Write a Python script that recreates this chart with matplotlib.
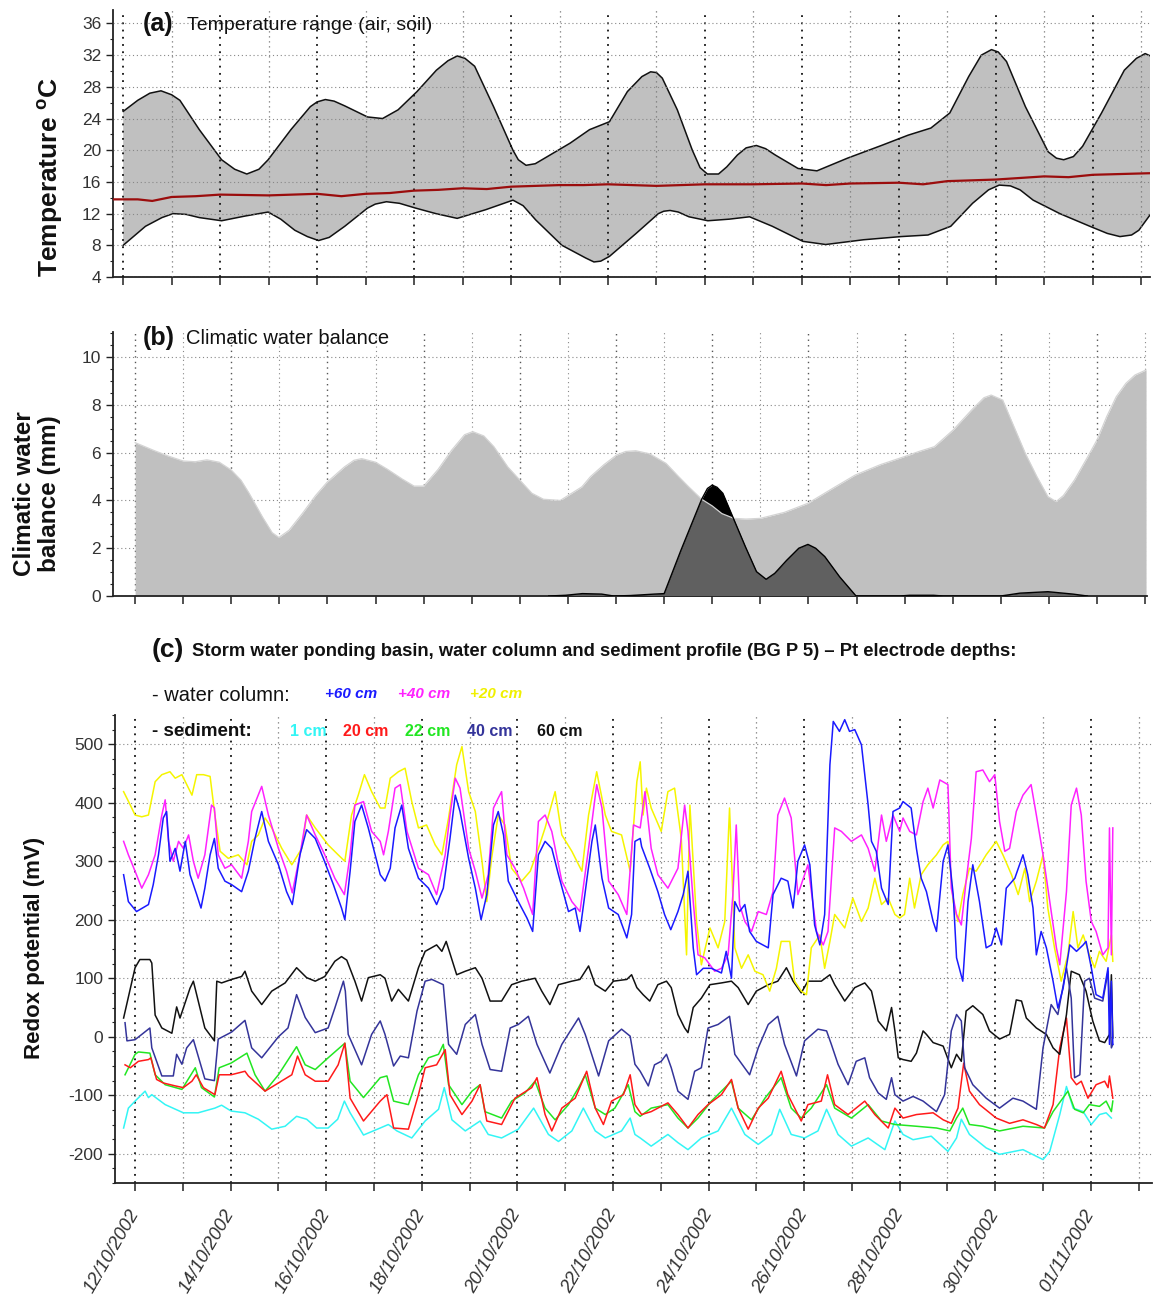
import numpy as np
import matplotlib

matplotlib.use("Agg")
import matplotlib.pyplot as plt
from matplotlib.patches import Polygon
from matplotlib.ticker import MultipleLocator

plt.rcParams["font.family"] = ["Liberation Sans", "DejaVu Sans"]
plt.rcParams["mathtext.fontset"] = "custom"
plt.rcParams["mathtext.bf"] = "Liberation Sans:bold"
plt.rcParams["mathtext.rm"] = "Liberation Sans"
plt.rcParams["axes.unicode_minus"] = False

# x values are days since 12/10/2002 (panel a axis is drawn slightly shifted, as in the source)

# (a) temperature range (air) and soil temperature, deg C
temp_max = [(0.0, 24.9), (0.3, 26.3), (0.55, 27.2), (0.78, 27.5), (1.0, 27.0), (1.17, 26.3), (1.57, 22.6),
            (2.03, 18.8), (2.3, 17.6), (2.55, 17.0), (2.8, 17.6), (2.99, 18.8), (3.46, 22.6), (3.86, 25.5),
            (4.0, 26.1), (4.17, 26.4), (4.35, 26.2), (4.57, 25.6), (5.04, 24.2), (5.35, 24.0), (5.67, 25.1),
            (6.06, 27.4), (6.46, 30.1), (6.7, 31.3), (6.89, 31.9), (7.05, 31.6), (7.25, 30.6), (7.64, 25.5),
            (8.04, 20.0), (8.15, 18.8), (8.31, 18.1), (8.5, 18.3), (8.75, 19.2), (9.22, 20.9), (9.62, 22.6),
            (10.03, 23.6), (10.4, 27.4), (10.7, 29.3), (10.88, 29.9), (11.0, 29.8), (11.12, 29.1), (11.43, 25.1),
            (11.74, 20.0), (11.9, 17.8), (12.05, 17.0), (12.28, 17.0), (12.45, 17.9), (12.67, 19.4),
            (12.85, 20.3), (13.06, 20.6), (13.25, 20.2), (13.45, 19.4), (13.92, 17.7), (14.31, 17.4),
            (14.94, 19.0), (15.64, 20.6), (16.19, 21.9), (16.66, 22.8), (17.05, 24.7), (17.44, 29.3),
            (17.7, 32.0), (17.91, 32.7), (18.05, 32.4), (18.22, 31.2), (18.61, 25.5), (19.08, 19.8),
            (19.25, 19.0), (19.4, 18.8), (19.6, 19.2), (19.79, 20.5), (20.18, 24.7), (20.65, 30.1),
            (20.9, 31.6), (21.08, 32.2), (21.26, 31.7)]
temp_min = [(0.0, 8.0), (0.46, 10.4), (0.8, 11.5), (1.03, 12.0), (1.3, 11.9), (1.57, 11.5), (2.03, 11.1),
            (2.52, 11.7), (2.99, 12.2), (3.25, 11.3), (3.54, 9.9), (3.8, 9.1), (4.03, 8.6), (4.25, 9.0),
            (4.57, 10.4), (5.04, 12.7), (5.2, 13.2), (5.43, 13.5), (5.7, 13.3), (6.03, 12.7), (6.45, 12.0),
            (6.89, 11.4), (7.48, 12.5), (8.04, 13.7), (8.25, 13.0), (8.51, 11.2), (9.05, 8.0), (9.54, 6.4),
            (9.71, 5.9), (9.85, 6.0), (10.03, 6.6), (10.58, 9.5), (11.04, 12.0), (11.15, 12.3), (11.28, 12.4),
            (11.45, 12.2), (11.67, 11.6), (12.06, 11.1), (12.5, 11.3), (12.92, 11.6), (13.39, 10.4),
            (14.02, 8.5), (14.49, 8.1), (15.27, 8.7), (16.04, 9.1), (16.6, 9.3), (17.07, 10.4), (17.52, 13.3),
            (17.85, 15.0), (18.07, 15.6), (18.3, 15.5), (18.5, 15.0), (18.77, 13.7), (19.32, 12.0),
            (19.94, 10.4), (20.3, 9.5), (20.56, 9.1), (20.8, 9.3), (20.95, 9.9), (21.26, 12.5)]
temp_soil = [(-0.21, 13.8), (0.3, 13.8), (0.6, 13.6), (1.0, 14.1), (1.5, 14.2), (2.0, 14.4), (3.0, 14.3),
             (4.0, 14.5), (4.5, 14.2), (5.0, 14.5), (5.5, 14.6), (6.0, 14.9), (6.5, 15.0), (7.0, 15.2),
             (7.5, 15.1), (8.0, 15.4), (9.0, 15.6), (9.5, 15.6), (10.0, 15.7), (10.5, 15.6), (11.0, 15.5),
             (12.0, 15.7), (13.0, 15.7), (14.0, 15.8), (14.5, 15.6), (15.0, 15.8), (16.0, 15.9), (16.5, 15.7),
             (17.0, 16.1), (18.0, 16.3), (18.5, 16.5), (19.0, 16.7), (19.5, 16.6), (20.0, 16.9), (21.18, 17.1)]

# (b) climatic water balance, mm
cwb_light = [(0, 6.42), (0.38, 6.1), (0.7, 5.85), (1.0, 5.65), (1.25, 5.62), (1.49, 5.7), (1.75, 5.6),
             (2.0, 5.27), (2.2, 4.85), (2.37, 4.3), (2.65, 3.3), (2.85, 2.65), (2.99, 2.45), (3.2, 2.75),
             (3.48, 3.46), (3.75, 4.2), (4.0, 4.78), (4.35, 5.4), (4.55, 5.68), (4.71, 5.75), (5.0, 5.6),
             (5.25, 5.3), (5.55, 4.9), (5.8, 4.6), (6.0, 4.6), (6.3, 5.3), (6.58, 6.1), (6.85, 6.75), (7.02, 6.88),
             (7.25, 6.7), (7.46, 6.25), (7.75, 5.4), (8.0, 4.85), (8.25, 4.3), (8.49, 4.05), (8.84, 4.0),
             (9.29, 4.57), (9.47, 5.0), (9.75, 5.5), (10.01, 5.9), (10.2, 6.05), (10.41, 6.08), (10.7, 5.95),
             (11.04, 5.55), (11.3, 5.0), (11.51, 4.57), (11.78, 4.05), (12.0, 3.77), (12.2, 3.45), (12.45, 3.25),
             (12.7, 3.22), (13.0, 3.25), (13.5, 3.5), (13.99, 3.88), (14.5, 4.5), (14.97, 5.06), (15.5, 5.5),
             (15.99, 5.83), (16.3, 6.05), (16.62, 6.25), (17.01, 6.95), (17.4, 7.8), (17.65, 8.3), (17.8, 8.41),
             (18.04, 8.2), (18.25, 7.2), (18.51, 5.97), (18.75, 5.0), (18.98, 4.16), (19.15, 3.95), (19.3, 4.2),
             (19.53, 4.85), (19.8, 5.8), (20.0, 6.53), (20.2, 7.5), (20.4, 8.34), (20.6, 8.9), (20.79, 9.25),
             (21.02, 9.46)]
cwb_dark = [(8.6, 0.0), (8.95, 0.03), (9.3, 0.1), (9.7, 0.08), (9.95, 0.0), (10.3, 0.02), (10.8, 0.08),
            (11.0, 0.1), (11.35, 1.92), (11.78, 4.05), (11.9, 4.5), (12.0, 4.64), (12.1, 4.55), (12.22, 4.3),
            (12.44, 3.25), (12.69, 2.06), (12.92, 1.02), (13.12, 0.7), (13.3, 0.95), (13.55, 1.5), (13.8, 2.0),
            (13.99, 2.16), (14.15, 2.0), (14.34, 1.65), (14.65, 0.8), (14.99, 0.0), (15.9, 0.0), (16.1, 0.03),
            (16.6, 0.03), (16.8, 0.0), (18.0, 0.0), (18.4, 0.12), (18.98, 0.18), (19.5, 0.08), (19.8, 0.0)]

# (c) redox potential, mV
redox_p60 = [(-0.24, 277), (-0.14, 231), (0.03, 214), (0.28, 226), (0.38, 260), (0.49, 311), (0.59, 374),
             (0.66, 385), (0.73, 300), (0.84, 322), (0.94, 283), (1.05, 334), (1.15, 277), (1.29, 243),
             (1.38, 220), (1.46, 254), (1.57, 311), (1.66, 339), (1.74, 288), (1.88, 266), (2.02, 260),
             (2.23, 248), (2.37, 283), (2.51, 339), (2.65, 385), (2.79, 334), (3.0, 294), (3.17, 248), (3.29, 226),
             (3.45, 311), (3.59, 354), (3.77, 339), (3.94, 305), (4.15, 260), (4.32, 220), (4.39, 200), (4.5, 283),
             (4.6, 368), (4.74, 396), (4.88, 357), (5.13, 277), (5.23, 266), (5.34, 288), (5.44, 357), (5.58, 396),
             (5.72, 322), (5.93, 271), (6.14, 254), (6.31, 226), (6.45, 254), (6.59, 339), (6.7, 413), (6.8, 385),
             (6.98, 305), (7.12, 254), (7.24, 200), (7.36, 243), (7.5, 362), (7.6, 385), (7.71, 345), (7.81, 266),
             (8.02, 231), (8.2, 203), (8.32, 180), (8.44, 311), (8.58, 334), (8.72, 322), (8.86, 277), (9.07, 214),
             (9.21, 220), (9.31, 180), (9.45, 266), (9.56, 334), (9.63, 362), (9.77, 271), (9.91, 220),
             (10.11, 209), (10.29, 169), (10.39, 209), (10.46, 334), (10.57, 339), (10.6, 325), (10.77, 288),
             (10.94, 248), (11.08, 209), (11.21, 183), (11.36, 214), (11.47, 243), (11.57, 283), (11.68, 152),
             (11.75, 106), (11.89, 117), (12.06, 117), (12.27, 109), (12.37, 146), (12.48, 100), (12.55, 231),
             (12.65, 214), (12.76, 226), (12.86, 180), (13.0, 163), (13.25, 152), (13.35, 243), (13.52, 271),
             (13.66, 266), (13.77, 220), (13.87, 300), (14.01, 328), (14.12, 294), (14.22, 191), (14.33, 157),
             (14.43, 209), (14.54, 465), (14.61, 539), (14.74, 522), (14.85, 542), (14.95, 522), (15.06, 525),
             (15.2, 499), (15.34, 396), (15.41, 334), (15.51, 317), (15.62, 254), (15.76, 226), (15.86, 385),
             (16.0, 391), (16.07, 402), (16.24, 391), (16.35, 322), (16.45, 271), (16.56, 248), (16.7, 197),
             (16.77, 180), (16.91, 300), (17.01, 328), (17.12, 243), (17.19, 135), (17.32, 95), (17.43, 231),
             (17.53, 294), (17.67, 231), (17.81, 152), (17.92, 157), (18.02, 186), (18.13, 157), (18.23, 254),
             (18.41, 271), (18.58, 311), (18.68, 277), (18.79, 220), (18.86, 140), (18.96, 180), (19.07, 152),
             (19.21, 95), (19.31, 49), (19.42, 83), (19.56, 157), (19.7, 146), (19.84, 157), (19.9, 163),
             (20.01, 118), (20.11, 72), (20.25, 66), (20.36, 118), (20.39, -13), (20.43, 95), (20.46, -13)]
redox_p40 = [(-0.24, 334), (-0.14, 311), (0.0, 283), (0.14, 254), (0.28, 277), (0.42, 311), (0.56, 379),
             (0.63, 405), (0.7, 334), (0.8, 300), (0.91, 334), (1.01, 322), (1.12, 345), (1.22, 300), (1.32, 271),
             (1.46, 311), (1.6, 396), (1.66, 391), (1.74, 311), (1.88, 288), (2.02, 294), (2.23, 271), (2.37, 334),
             (2.44, 385), (2.65, 428), (2.79, 379), (3.0, 322), (3.17, 283), (3.29, 246), (3.45, 311), (3.59, 379),
             (3.77, 345), (3.97, 311), (4.18, 271), (4.38, 243), (4.5, 311), (4.6, 396), (4.78, 402), (4.95, 351),
             (5.13, 334), (5.2, 311), (5.3, 351), (5.44, 425), (5.55, 431), (5.69, 351), (5.93, 288), (6.14, 277),
             (6.31, 243), (6.49, 311), (6.59, 379), (6.7, 442), (6.8, 425), (6.98, 322), (7.12, 283), (7.26, 237),
             (7.39, 277), (7.5, 391), (7.6, 408), (7.67, 419), (7.78, 311), (7.95, 288), (8.13, 254), (8.32, 209),
             (8.44, 368), (8.58, 379), (8.72, 351), (8.93, 266), (9.14, 231), (9.31, 214), (9.49, 322), (9.66, 431),
             (9.77, 391), (9.91, 266), (10.11, 243), (10.29, 209), (10.43, 362), (10.57, 357), (10.67, 419),
             (10.8, 322), (10.94, 277), (11.15, 254), (11.36, 288), (11.5, 396), (11.57, 351), (11.68, 231),
             (11.78, 140), (11.92, 135), (12.13, 112), (12.27, 117), (12.41, 140), (12.51, 243), (12.58, 362),
             (12.65, 226), (12.76, 197), (12.9, 180), (13.04, 214), (13.21, 209), (13.35, 248), (13.45, 379),
             (13.59, 408), (13.73, 374), (13.87, 243), (14.08, 294), (14.26, 180), (14.4, 157), (14.5, 180),
             (14.64, 357), (14.78, 351), (14.99, 334), (15.2, 345), (15.34, 322), (15.48, 283), (15.62, 379),
             (15.72, 334), (15.86, 379), (16.0, 351), (16.07, 374), (16.21, 351), (16.35, 345), (16.49, 402),
             (16.59, 425), (16.7, 391), (16.84, 439), (17.01, 431), (17.08, 254), (17.19, 209), (17.29, 191),
             (17.39, 266), (17.5, 339), (17.6, 453), (17.74, 456), (17.88, 436), (17.99, 448), (18.09, 368),
             (18.2, 317), (18.3, 322), (18.44, 385), (18.58, 413), (18.75, 431), (18.86, 379), (19.0, 311),
             (19.14, 231), (19.28, 152), (19.35, 123), (19.49, 248), (19.59, 396), (19.7, 425), (19.8, 379),
             (19.9, 266), (20.01, 197), (20.11, 180), (20.25, 140), (20.36, 152), (20.39, 357), (20.43, 140),
             (20.46, 357)]
redox_p20 = [(-0.24, 419), (-0.1, 396), (0.0, 379), (0.14, 376), (0.28, 379), (0.42, 436), (0.56, 448),
             (0.73, 453), (0.84, 442), (0.98, 448), (1.19, 413), (1.29, 448), (1.43, 448), (1.57, 445), (1.67, 379),
             (1.78, 317), (1.95, 305), (2.16, 311), (2.34, 294), (2.44, 334), (2.58, 345), (2.72, 374), (2.86, 357),
             (3.07, 322), (3.28, 294), (3.49, 322), (3.59, 379), (3.77, 357), (4.04, 328), (4.25, 311), (4.39, 300),
             (4.53, 379), (4.67, 413), (4.8, 448), (4.95, 419), (5.13, 391), (5.23, 391), (5.34, 442), (5.51, 453),
             (5.65, 459), (5.79, 402), (5.93, 357), (6.1, 362), (6.28, 328), (6.42, 311), (6.56, 374), (6.73, 465),
             (6.84, 496), (6.98, 419), (7.12, 385), (7.26, 300), (7.36, 231), (7.46, 305), (7.6, 379), (7.74, 362),
             (7.88, 288), (8.09, 266), (8.27, 283), (8.44, 322), (8.58, 357), (8.79, 419), (8.93, 345), (9.14, 317),
             (9.35, 283), (9.49, 379), (9.66, 453), (9.84, 379), (9.97, 351), (10.18, 345), (10.36, 283),
             (10.5, 436), (10.57, 470), (10.63, 379), (10.7, 425), (10.8, 391), (11.01, 351), (11.15, 419),
             (11.29, 425), (11.43, 339), (11.54, 140), (11.61, 396), (11.75, 197), (11.85, 123), (12.03, 186),
             (12.2, 152), (12.34, 197), (12.44, 391), (12.55, 152), (12.69, 117), (12.83, 140), (12.97, 112),
             (13.14, 106), (13.28, 78), (13.42, 117), (13.52, 163), (13.7, 163), (13.8, 95), (13.94, 78),
             (14.05, 72), (14.15, 152), (14.33, 174), (14.43, 117), (14.54, 163), (14.64, 209), (14.85, 186),
             (15.02, 237), (15.2, 197), (15.34, 220), (15.48, 271), (15.62, 226), (15.76, 237), (15.9, 209),
             (16.0, 203), (16.1, 209), (16.21, 271), (16.31, 220), (16.45, 277), (16.59, 294), (16.77, 311),
             (16.91, 328), (17.01, 334), (17.12, 231), (17.22, 197), (17.32, 243), (17.46, 288), (17.6, 283),
             (17.81, 311), (18.02, 334), (18.16, 311), (18.34, 277), (18.48, 243), (18.62, 288), (18.72, 231),
             (18.86, 266), (19.0, 311), (19.1, 220), (19.24, 152), (19.38, 95), (19.52, 140), (19.63, 214),
             (19.73, 152), (19.84, 174), (19.97, 140), (20.08, 118), (20.18, 146), (20.32, 129), (20.43, 174),
             (20.46, 129)]
redox_s1 = [(-0.24, -156), (-0.14, -122), (0.0, -110), (0.21, -93), (0.28, -104), (0.35, -99), (0.63, -116),
            (1.01, -130), (1.32, -130), (1.67, -122), (1.81, -117), (2.01, -127), (2.3, -130), (2.58, -141),
            (2.86, -158), (3.14, -153), (3.38, -136), (3.59, -141), (3.8, -156), (4.04, -156), (4.24, -141),
            (4.38, -110), (4.5, -130), (4.78, -168), (5.13, -156), (5.3, -150), (5.48, -161), (5.79, -173),
            (6.07, -144), (6.35, -124), (6.47, -87), (6.63, -142), (6.91, -161), (7.22, -144), (7.39, -167),
            (7.67, -173), (8.02, -158), (8.34, -122), (8.65, -167), (8.86, -179), (9.14, -161), (9.38, -122),
            (9.63, -161), (9.84, -173), (10.18, -161), (10.36, -139), (10.46, -167), (10.57, -173), (10.8, -187),
            (11.15, -167), (11.36, -181), (11.57, -193), (11.85, -173), (12.2, -161), (12.48, -122), (12.76, -167),
            (13.04, -184), (13.32, -167), (13.49, -124), (13.73, -167), (14.01, -173), (14.29, -161),
            (14.47, -124), (14.71, -167), (14.99, -187), (15.34, -173), (15.69, -193), (15.9, -144),
            (16.07, -167), (16.28, -176), (16.66, -170), (17.01, -196), (17.19, -173), (17.29, -141),
            (17.46, -167), (17.81, -190), (18.09, -201), (18.58, -193), (19.0, -210), (19.14, -196),
            (19.35, -133), (19.49, -85), (19.63, -122), (19.84, -128), (20.01, -150), (20.18, -133),
            (20.32, -130), (20.43, -139)]
redox_s20 = [(-0.21, -48), (-0.1, -53), (0.07, -42), (0.28, -39), (0.33, -36), (0.45, -73), (0.59, -79),
             (0.84, -84), (1.01, -87), (1.19, -76), (1.28, -65), (1.43, -87), (1.67, -99), (1.76, -65), (2.01, -65),
             (2.3, -59), (2.37, -67), (2.72, -93), (3.0, -79), (3.28, -65), (3.4, -33), (3.56, -65), (3.77, -76),
             (4.04, -76), (4.25, -48), (4.39, -11), (4.5, -105), (4.78, -144), (5.13, -110), (5.27, -99),
             (5.41, -156), (5.72, -158), (5.93, -99), (6.07, -53), (6.31, -48), (6.49, -22), (6.59, -99),
             (6.84, -133), (7.05, -110), (7.22, -82), (7.36, -144), (7.67, -150), (7.95, -105), (8.3, -87),
             (8.41, -70), (8.58, -133), (8.72, -161), (8.93, -122), (9.21, -105), (9.45, -59), (9.63, -122),
             (9.8, -150), (9.97, -110), (10.22, -99), (10.36, -65), (10.46, -116), (10.6, -133), (10.8, -128),
             (11.15, -113), (11.36, -133), (11.57, -156), (11.78, -133), (11.99, -116), (12.27, -99), (12.48, -73),
             (12.62, -122), (12.83, -158), (13.04, -122), (13.25, -105), (13.52, -59), (13.66, -99), (13.94, -144),
             (14.08, -116), (14.36, -110), (14.49, -65), (14.64, -116), (14.92, -133), (15.27, -110),
             (15.48, -133), (15.76, -156), (15.9, -122), (16.07, -139), (16.35, -133), (16.7, -130), (16.91, -142),
             (17.08, -148), (17.22, -122), (17.34, -45), (17.46, -93), (17.67, -116), (18.02, -139), (18.3, -148),
             (18.58, -142), (18.86, -150), (19.03, -156), (19.21, -116), (19.35, -19), (19.49, 32), (19.59, -70),
             (19.7, -82), (19.8, -76), (19.94, -105), (20.11, -82), (20.29, -76), (20.36, -87), (20.39, -67),
             (20.46, -105)]
redox_s22 = [(-0.21, -65), (0.0, -30), (0.07, -26), (0.31, -28), (0.42, -65), (0.63, -82), (0.98, -90),
             (1.26, -53), (1.39, -87), (1.66, -103), (1.76, -53), (2.01, -45), (2.34, -28), (2.51, -65), (2.72, -93),
             (3.0, -65), (3.38, -17), (3.56, -48), (3.77, -56), (4.04, -36), (4.39, -11), (4.5, -76), (4.78, -104),
             (5.13, -70), (5.27, -67), (5.41, -110), (5.72, -116), (5.93, -65), (6.14, -36), (6.35, -30),
             (6.45, -13), (6.56, -82), (6.84, -116), (7.05, -93), (7.22, -82), (7.32, -128), (7.67, -139),
             (7.88, -110), (8.16, -96), (8.37, -76), (8.58, -122), (8.79, -142), (9.07, -116), (9.28, -87),
             (9.42, -65), (9.63, -122), (9.84, -133), (10.04, -122), (10.32, -82), (10.46, -128), (10.57, -136),
             (10.8, -122), (11.15, -116), (11.36, -139), (11.57, -156), (11.78, -139), (12.06, -110), (12.48, -76),
             (12.62, -122), (12.9, -142), (13.18, -105), (13.52, -70), (13.73, -122), (13.94, -139), (14.15, -122),
             (14.47, -82), (14.64, -122), (14.99, -139), (15.34, -116), (15.62, -144), (15.9, -150), (16.35, -153),
             (16.77, -156), (17.05, -161), (17.19, -139), (17.32, -122), (17.46, -150), (17.74, -153),
             (18.09, -161), (18.58, -153), (19.03, -156), (19.21, -128), (19.52, -93), (19.66, -124),
             (19.84, -130), (19.97, -116), (20.18, -119), (20.32, -110), (20.43, -128), (20.46, -110)]
redox_s40 = [(-0.21, 24), (-0.17, -7), (0.0, -5), (0.14, 4), (0.31, 15), (0.35, -19), (0.56, -67), (0.8, -67),
             (0.87, -30), (0.98, -47), (1.08, -19), (1.22, -5), (1.46, -72), (1.66, -75), (1.74, -4), (2.02, 8),
             (2.3, 28), (2.44, -19), (2.65, -36), (3.0, 0), (3.2, 15), (3.38, 72), (3.56, 33), (3.77, 7),
             (4.04, 15), (4.18, 49), (4.36, 95), (4.4, 78), (4.46, 4), (4.74, -48), (4.95, 4), (5.13, 27),
             (5.23, 4), (5.41, -50), (5.55, -33), (5.72, -36), (5.9, 44), (6.07, 95), (6.21, 98), (6.45, 89),
             (6.56, -13), (6.73, -30), (6.91, 21), (7.12, 38), (7.26, -13), (7.43, -56), (7.67, -59), (7.85, 15),
             (8.02, 21), (8.23, 35), (8.41, -13), (8.68, -62), (8.93, -13), (9.28, 32), (9.42, 4), (9.7, -67),
             (9.91, -7), (10.18, 13), (10.36, 1), (10.46, -47), (10.57, -59), (10.74, -84), (10.87, -48),
             (11.01, -42), (11.12, -30), (11.22, -53), (11.36, -93), (11.57, -107), (11.71, -59), (11.85, -53),
             (11.99, 15), (12.2, 21), (12.44, 35), (12.55, -30), (12.86, -65), (13.04, -19), (13.25, 21),
             (13.45, 35), (13.59, -13), (13.84, -67), (14.01, -7), (14.29, 13), (14.47, 10), (14.57, -13),
             (14.71, -47), (14.92, -82), (15.09, -42), (15.27, -36), (15.37, -70), (15.55, -96), (15.72, -107),
             (15.83, -70), (15.9, -99), (16.07, -110), (16.28, -102), (16.49, -110), (16.77, -128), (16.94, -99),
             (17.08, 10), (17.19, 38), (17.29, 27), (17.36, -53), (17.53, -82), (17.81, -105), (18.09, -122),
             (18.37, -105), (18.58, -110), (18.86, -124), (19.0, -19), (19.17, 55), (19.31, 38), (19.49, 118),
             (19.59, 66), (19.66, -70), (19.77, -65), (19.87, 95), (19.97, 100), (20.08, 66), (20.25, 61),
             (20.36, 112), (20.43, -19), (20.46, -13)]
redox_s60 = [(-0.24, 32), (0.0, 118), (0.1, 132), (0.31, 132), (0.35, 126), (0.42, 37), (0.56, 15), (0.77, 6),
             (0.87, 51), (0.94, 32), (1.15, 83), (1.22, 95), (1.46, 15), (1.66, -7), (1.71, 95), (1.81, 92),
             (2.02, 98), (2.23, 103), (2.3, 112), (2.44, 78), (2.65, 55), (2.86, 78), (3.14, 92), (3.38, 118),
             (3.59, 101), (3.77, 95), (3.97, 103), (4.18, 129), (4.32, 137), (4.43, 131), (4.6, 95), (4.74, 61),
             (4.88, 101), (5.13, 106), (5.23, 100), (5.37, 61), (5.51, 81), (5.72, 61), (5.93, 118), (6.07, 146),
             (6.31, 157), (6.42, 146), (6.51, 163), (6.73, 106), (6.91, 112), (7.12, 118), (7.26, 100), (7.43, 61),
             (7.67, 61), (7.88, 89), (8.09, 95), (8.37, 100), (8.51, 78), (8.68, 55), (8.86, 89), (9.14, 95),
             (9.31, 98), (9.49, 121), (9.63, 89), (9.84, 78), (10.01, 95), (10.29, 98), (10.39, 106), (10.5, 84),
             (10.63, 72), (10.77, 61), (10.94, 89), (11.12, 95), (11.22, 84), (11.36, 38), (11.5, 15), (11.57, 7),
             (11.68, 50), (11.85, 66), (12.03, 89), (12.27, 92), (12.48, 95), (12.62, 84), (12.83, 55), (13.0, 78),
             (13.25, 89), (13.45, 95), (13.63, 118), (13.77, 95), (13.94, 75), (14.08, 95), (14.36, 95),
             (14.54, 106), (14.64, 89), (14.85, 61), (15.06, 84), (15.27, 92), (15.41, 78), (15.55, 27),
             (15.72, 10), (15.83, 50), (15.9, 10), (15.97, -36), (16.07, -39), (16.24, -42), (16.35, -28),
             (16.49, 10), (16.56, 4), (16.7, -10), (16.91, -16), (17.08, -53), (17.19, -30), (17.29, -42),
             (17.39, 44), (17.53, 53), (17.74, 38), (17.88, 10), (18.09, -4), (18.3, 4), (18.44, 63), (18.55, 61),
             (18.65, 32), (18.86, 15), (19.07, 4), (19.21, -19), (19.35, -30), (19.49, 38), (19.59, 112),
             (19.76, 106), (19.9, 78), (20.04, 27), (20.18, -7), (20.29, -10), (20.39, 4), (20.43, 106),
             (20.46, -2)]

date_labels = ["12/10/2002", "14/10/2002", "16/10/2002", "18/10/2002", "20/10/2002", "22/10/2002",
               "24/10/2002", "26/10/2002", "28/10/2002", "30/10/2002", "01/11/2002"]

W, H = 1153, 1305


def box(left, top, right, bottom):
    """Axes rectangle from pixel edges of the reference picture."""
    return [left / W, 1 - bottom / H, (right - left) / W, (bottom - top) / H]


def xy(points):
    arr = np.array(points, dtype=float)
    return arr[:, 0], arr[:, 1]


def style_axes(ax, grid_on_top=False):
    for side in ("top", "right"):
        ax.spines[side].set_visible(False)
    for side in ("left", "bottom"):
        ax.spines[side].set_color("#222222")
        ax.spines[side].set_linewidth(1.3)
    ax.set_axisbelow(not grid_on_top)
    ax.xaxis.set_major_locator(MultipleLocator(2))
    ax.xaxis.set_minor_locator(MultipleLocator(1))
    ax.tick_params(axis="both", which="both", direction="out", colors="#222222", labelcolor="#333333",
                   labelsize=12.5)
    ax.tick_params(axis="x", which="both", length=6, width=1.1)
    ax.tick_params(axis="y", which="major", length=5, width=1.0)
    ax.tick_params(axis="y", which="minor", length=2.5, width=0.8)
    ax.grid(True, which="major", axis="x", linestyle=(0, (1, 3)), color="#111111", linewidth=1.3)
    ax.grid(True, which="minor", axis="x", linestyle=(0, (1, 3)), color="#777777", linewidth=0.9)
    ax.grid(True, which="major", axis="y", linestyle=(0, (1, 2.5)), color="#888888", linewidth=0.8)


fig = plt.figure(figsize=(W / 100, H / 100), dpi=100)

# ---------------- (a) temperature range ----------------
ax_a = fig.add_axes(box(113, 10, 1150, 277))
ux, uy = xy(temp_max)
lx, ly = xy(temp_min)
sx, sy = xy(temp_soil)
ax_a.fill(np.r_[ux, lx[::-1]], np.r_[uy, ly[::-1]], color="#c0c0c0", lw=0, zorder=1)
ax_a.plot(ux, uy, color="#111111", lw=1.1, zorder=2)
ax_a.plot(lx, ly, color="#111111", lw=1.1, zorder=2)
ax_a.plot(sx, sy, color="#9b0d0d", lw=1.6, zorder=3)
ax_a.set_xlim(-0.21, 21.18)
ax_a.set_ylim(4, 37.7)
ax_a.set_yticks(np.arange(4, 37, 4))
ax_a.yaxis.set_minor_locator(MultipleLocator(2))
style_axes(ax_a, grid_on_top=True)
ax_a.tick_params(axis="x", labelbottom=False)

# ---------------- (b) climatic water balance ----------------
ax_b = fig.add_axes(box(113, 332, 1147, 596))
bx, by = xy(cwb_light)
dx, dy = xy(cwb_dark)
ax_b.fill_between(bx, 0, by, color="#c0c0c0", lw=0, zorder=1)
ax_b.fill_between(dx, 0, dy, color="black", lw=0, zorder=2)
dark_in = ax_b.fill_between(dx, 0, dy, color="#606060", lw=0, zorder=3)
light_shape = Polygon(np.column_stack([np.r_[bx[0], bx, bx[-1]], np.r_[0, by, 0]]), closed=True,
                      transform=ax_b.transData)
dark_in.set_clip_path(light_shape)
ax_b.plot(bx, by, color="#d4d4d4", lw=0.9, zorder=4)
ax_b.plot(dx, dy, color="black", lw=1.0, zorder=5)
ax_b.set_xlim(-0.46, 21.04)
ax_b.set_ylim(0, 11.05)
ax_b.set_yticks(np.arange(0, 11, 2))
ax_b.yaxis.set_minor_locator(MultipleLocator(0.5))
style_axes(ax_b)
ax_b.grid(True, which="major", axis="x", linestyle=(0, (1, 3)), color="#555555", linewidth=1.0)
ax_b.grid(True, which="minor", axis="x", linestyle=(0, (1, 3)), color="#888888", linewidth=0.8)
ax_b.tick_params(axis="x", labelbottom=False)

# ---------------- (c) redox potentials ----------------
ax_c = fig.add_axes(box(115, 715, 1152, 1183))
series = [
    (redox_s1, "#33f5f5"),
    (redox_s22, "#22e622"),
    (redox_s20, "#ff1a1a"),
    (redox_s60, "#111111"),
    (redox_s40, "#34349a"),
    (redox_p20, "#f5f500"),
    (redox_p40, "#ff22ff"),
    (redox_p60, "#1a1aff"),
]
for pts, col in series:
    px_, py_ = xy(pts)
    ax_c.plot(px_, py_, color=col, lw=1.1, zorder=3)
ax_c.set_xlim(-0.42, 21.28)
ax_c.set_ylim(-250, 550)
ax_c.set_yticks(np.arange(-200, 501, 100))
ax_c.yaxis.set_minor_locator(MultipleLocator(25))
style_axes(ax_c)
ax_c.set_xticks(np.arange(0, 21, 2))
ax_c.set_xticklabels(date_labels, rotation=60, ha="right", va="center", rotation_mode="anchor",
                     fontstyle="italic", fontsize=13.5, color="#333333")
ax_c.tick_params(axis="x", which="major", pad=14)

# ---------------- texts ----------------
def ftext(x, y, s, **kw):
    fig.text(x / W, 1 - y / H, s, **kw)


ftext(50, 177, "Temperature $^{\\mathbf{o}}$C", rotation=90, ha="center", va="center", fontsize=19,
      fontweight="bold", color="#111111")
ftext(37, 494, "Climatic water\nbalance (mm)", rotation=90, ha="center", va="center", fontsize=17.5,
      fontweight="bold", linespacing=1.15, color="#111111")
ftext(35, 948, "Redox potential (mV)", rotation=90, ha="center", va="center", fontsize=16,
      fontweight="bold", color="#111111")

ftext(143, 24, "(a)", ha="left", va="center", fontsize=18, fontweight="bold", color="#111111")
ftext(187, 25, "Temperature range (air, soil)", ha="left", va="center", fontsize=14, color="#111111")
ftext(143, 338, "(b)", ha="left", va="center", fontsize=18, fontweight="bold", color="#111111")
ftext(186, 339, "Climatic water balance", ha="left", va="center", fontsize=14.5, color="#111111")
ftext(152, 650, "(c)", ha="left", va="center", fontsize=19, fontweight="bold", color="#111111")
ftext(192, 651, "Storm water ponding basin, water column and sediment profile (BG P 5) \u2013 "
      "Pt electrode depths:", ha="left", va="center", fontsize=13.2, fontweight="bold", color="#111111")

ftext(152, 695, "- water column:", ha="left", va="center", fontsize=14.5, color="#111111")
for x0, lab, col in [(325, "+60 cm", "#1a1aff"), (398, "+40 cm", "#ff22ff"), (470, "+20 cm", "#f0f000")]:
    ftext(x0, 694, lab, ha="left", va="center", fontsize=11, fontweight="bold", fontstyle="italic", color=col)
ftext(152, 731, "- sediment:", ha="left", va="center", fontsize=13.5, fontweight="bold", color="#111111")
for x0, lab, col in [(290, "1 cm", "#33f5f5"), (343, "20 cm", "#ff1a1a"), (405, "22 cm", "#22e622"),
                     (467, "40 cm", "#34349a"), (537, "60 cm", "#111111")]:
    ftext(x0, 731, lab, ha="left", va="center", fontsize=11.5, fontweight="bold", color=col)

fig.savefig("out.png", dpi=100)
